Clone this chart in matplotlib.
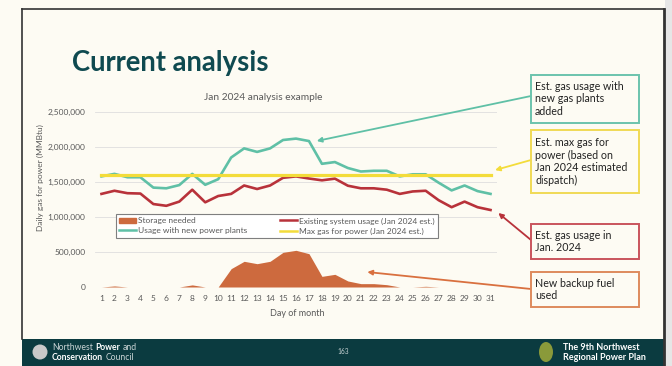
import matplotlib
matplotlib.use('Agg')
import matplotlib.pyplot as plt
from matplotlib.patches import Rectangle, Patch, Ellipse
from matplotlib.lines import Line2D

plt.rcParams['font.family'] = ['Lato', 'DejaVu Sans']

# data (MMBtu per day)
days = list(range(1, 32))
storage_needed = [0, 15000, 0, 0, 0, 0, 0, 30000, 0, 0,
                  262000, 367000, 333000, 367000, 495000, 524000, 476000, 152000, 181000, 86000,
                  48000, 48000, 33000, 0, 0, 10000, 0, 0, 0, 0, 0]
existing_usage = [1330000, 1375000, 1340000, 1335000, 1185000, 1160000, 1220000, 1390000, 1210000, 1300000,
                  1330000, 1450000, 1400000, 1450000, 1560000, 1580000, 1550000, 1524000, 1548000, 1447000,
                  1410000, 1410000, 1390000, 1330000, 1365000, 1375000, 1240000, 1140000, 1220000, 1140000,
                  1100000]
new_plants_usage = [1580000, 1616000, 1568000, 1568000, 1420000, 1410000, 1456000, 1616000, 1460000, 1540000,
                    1850000, 1980000, 1930000, 1980000, 2100000, 2120000, 2085000, 1760000, 1785000, 1700000,
                    1650000, 1660000, 1660000, 1580000, 1610000, 1610000, 1490000, 1380000, 1450000, 1370000,
                    1330000]
max_gas = [1600000] * 31
yticks = [0, 500000, 1000000, 1500000, 2000000, 2500000]

W, H = 672, 366
bg = '#fdfbf3'
c_title = '#0f4a50'
c_teal = '#5fc0a6'
c_red = '#b8323a'
c_yel = '#f3dc3a'
c_orange = '#cd6a3e'
c_grey = '#595959'


def fx(x):
    return x / W


def fy(y):
    return 1 - y / H


fig = plt.figure(figsize=(W / 100, H / 100), dpi=100, facecolor=bg)
renderer = fig.canvas.get_renderer()


def chain(x, y, parts, size):
    # write text pieces one after another on a line (mixed weights)
    for txt, weight, col in parts:
        t = fig.text(fx(x), fy(y), txt, fontsize=size, fontweight=weight, color=col,
                     va='center', ha='left', zorder=3)
        x += t.get_window_extent(renderer=renderer).width + 2.5


# slide frame, right margin and footer
fig.patches.append(Rectangle((fx(665), 0), fx(7), 1, transform=fig.transFigure,
                             facecolor='#e6e6e6', edgecolor='none', zorder=0))
fig.add_artist(Line2D([fx(22), fx(22)], [fy(9), fy(339)], color='#333333', lw=1.2))
fig.add_artist(Line2D([fx(22), fx(664)], [fy(9), fy(9)], color='#333333', lw=1.2))
fig.add_artist(Line2D([fx(664), fx(664)], [fy(9), 0], color='#333333', lw=2))
fig.patches.append(Rectangle((fx(22), 0), fx(642), fy(339), transform=fig.transFigure,
                             facecolor='#0b3b40', edgecolor='none', zorder=1))

fig.text(fx(72), fy(63), 'Current analysis', fontsize=19.8, fontweight='bold',
         color=c_title, va='center', ha='left')

ax = fig.add_axes([fx(95), fy(287), fx(402), (287 - 112) / H])
ax.set_facecolor(bg)

ax.fill_between(days, storage_needed, 0, color=c_orange, lw=0, label='Storage needed', zorder=2)
ax.plot(days, existing_usage, color=c_red, lw=1.9, label='Existing system usage (Jan 2024 est.)', zorder=3)
ax.plot(days, new_plants_usage, color=c_teal, lw=1.9, label='Usage with new power plants', zorder=3)
ax.plot(days, max_gas, color=c_yel, lw=2.3, label='Max gas for power (Jan 2024 est.)', zorder=4)

ax.set_xlim(0.5, 31.5)
ax.set_ylim(0, 2500000)
ax.set_xticks(days)
ax.set_xticklabels([str(d) for d in days])
ax.set_yticks(yticks)
ax.set_yticklabels(['{:,}'.format(v) for v in yticks])
ax.tick_params(length=0, labelsize=6.0, colors=c_grey)
ax.tick_params(axis='y', pad=7)
ax.tick_params(axis='x', pad=6)
ax.grid(axis='y', color='#dedede', lw=0.6)
ax.set_axisbelow(True)
for s in ax.spines.values():
    s.set_visible(False)

fig.text(fx(263), fy(97), 'Jan 2024 analysis example', fontsize=7.3, color=c_grey,
         ha='center', va='center')
fig.text(fx(297), fy(313), 'Day of month', fontsize=6.5, color=c_grey, ha='center', va='center')
fig.text(fx(40), fy(178), 'Daily gas for power (MMBtu)', fontsize=6.0, color=c_grey,
         ha='center', va='center', rotation=90)

handles = [Patch(color=c_orange),
           Line2D([], [], color=c_teal, lw=1.8),
           Line2D([], [], color=c_red, lw=1.8),
           Line2D([], [], color=c_yel, lw=1.8)]
labels = ['Storage needed', 'Usage with new power plants',
          'Existing system usage (Jan 2024 est.)', 'Max gas for power (Jan 2024 est.)']
leg = fig.legend(handles, labels, ncol=2, loc='upper left',
                 bbox_to_anchor=(fx(116), fy(214)), fontsize=6.0, frameon=True,
                 fancybox=False, edgecolor='#7f7f7f', facecolor='white', framealpha=1,
                 borderpad=0.4, handlelength=2.0, handletextpad=0.2,
                 columnspacing=4.0, labelspacing=0.35, borderaxespad=0)
for t in leg.get_texts():
    t.set_color(c_grey)
leg.get_frame().set_linewidth(0.8)

# callout boxes
callouts = [
    ('Est. gas usage with\nnew gas plants\nadded', 75, 123, '#6cc3ad'),
    ('Est. max gas for\npower (based on\nJan 2024 estimated\ndispatch)', 130, 193, '#f0da55'),
    ('Est. gas usage in\nJan. 2024', 224, 259, '#c9545c'),
    ('New backup fuel\nused', 272, 307, '#de8a5c'),
]
for txt, y0, y1, col in callouts:
    fig.patches.append(Rectangle((fx(531), fy(y1)), fx(108), (y1 - y0) / H,
                                 transform=fig.transFigure, facecolor=bg,
                                 edgecolor=col, lw=1.4, zorder=5))
    fig.text(fx(535), fy((y0 + y1) / 2), txt, fontsize=7.7, color='#222222',
             ha='left', va='center', linespacing=1.2, zorder=6)

arrows = [
    ((17.6, 2086000), (531, 96), c_teal),
    ((31.35, 1670000), (531, 160), c_yel),
    ((31.6, 1057000), (531, 240), c_red),
    ((21.5, 214000), (531, 289), '#d9703f'),
]
for xy, (px, py), col in arrows:
    ax.annotate('', xy=xy, xycoords='data', xytext=(px, H - py), textcoords='figure pixels',
                arrowprops=dict(arrowstyle='-|>', color=col, lw=1.3, mutation_scale=7,
                                shrinkA=0, shrinkB=0), annotation_clip=False, zorder=6)

# footer
light = '#c9d4d5'
fig.patches.append(Ellipse((fx(40), fy(352)), fx(15), 15 / H, transform=fig.transFigure,
                           facecolor='#c9c9c9', edgecolor='none', zorder=2))
chain(52, 347, [('Northwest', 'normal', light), ('Power', 'bold', 'white'),
                ('and', 'normal', light)], 6.2)
chain(52, 357, [('Conservation', 'bold', 'white'), ('Council', 'normal', light)], 6.2)
fig.text(fx(343), fy(352), '163', fontsize=4.8, color=light, ha='center', va='center', zorder=3)
fig.patches.append(Ellipse((fx(546), fy(352)), fx(14), 20 / H, transform=fig.transFigure,
                           facecolor='#8a9a3a', edgecolor='none', zorder=2))
fig.text(fx(563), fy(347), 'The 9th Northwest', fontsize=6.5, color='white', fontweight='bold',
         va='center', zorder=3)
fig.text(fx(563), fy(357), 'Regional Power Plan', fontsize=6.5, color='white', fontweight='bold',
         va='center', zorder=3)

fig.savefig('out.png', dpi=100, facecolor=bg)
